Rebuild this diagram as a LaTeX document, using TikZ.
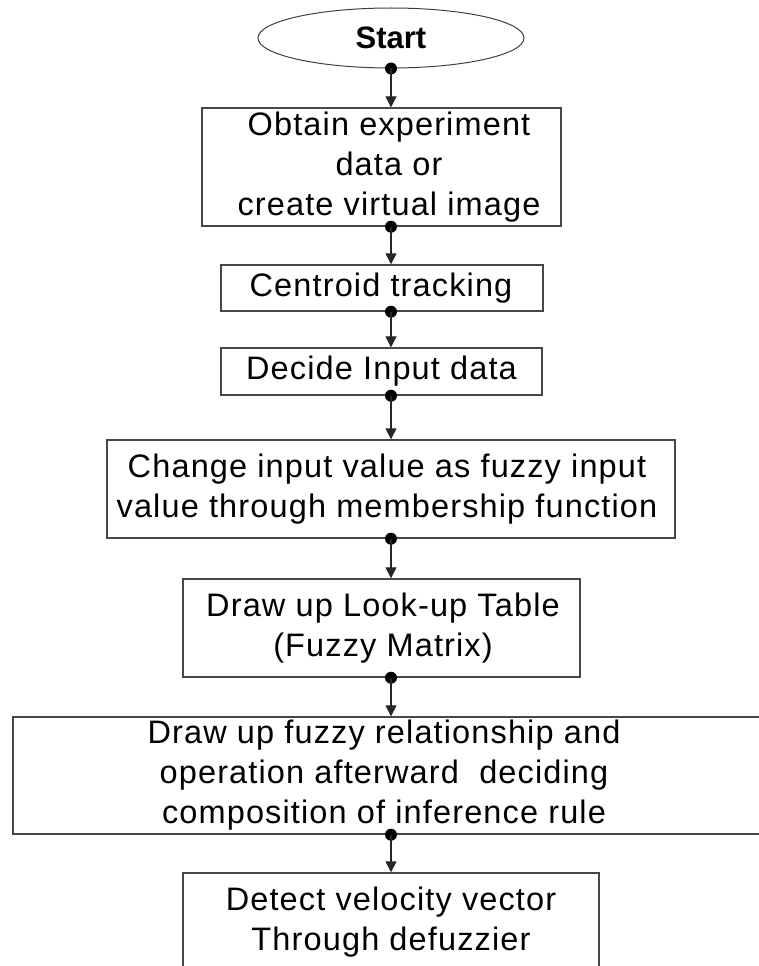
\documentclass[tikz,border=0pt]{standalone}
\usepackage{fontspec}
\setmainfont{Liberation Sans}[LetterSpace=3.5]
\newfontfamily\titlefont{Liberation Sans}
\usetikzlibrary{arrows.meta,shapes.geometric}

\begin{document}
\begin{tikzpicture}[x=1pt,y=-1pt,
  box/.style={draw=black!72, line width=1.4pt, rectangle, inner sep=0pt},
  txt/.style={align=center, font=\fontsize{32.5}{40}\selectfont, inner sep=0pt},
  link/.style={draw=black!85, line width=1.3pt, -{Triangle[length=11pt,width=11pt]}},
  joint/.style={circle, fill=black, inner sep=0pt, minimum size=12pt}]

\useasboundingbox (0,0) rectangle (759,966);
\clip (0,0) rectangle (759,966);

% vertical axis shared by all connectors
\coordinate (spine) at (391,0);

% terminal
\node[draw=black!75, line width=1pt, ellipse, minimum width=266pt,
      minimum height=60pt, inner sep=0pt,
      font=\titlefont\bfseries\fontsize{31}{36}\selectfont] (start) at (391,38) {Start};

% process boxes
\node[box, minimum width=359pt, minimum height=118pt] (b1) at (381.5,167) {};
\node[txt] (t1) at (389,167) {Obtain experiment\\data or\\create virtual image};

\node[box, minimum width=322pt, minimum height=46pt] (b2) at (382,288) {};
\node[txt] (t2) at (381,288) {Centroid tracking};

\node[box, minimum width=321pt, minimum height=47pt] (b3) at (381.5,371.5) {};
\node[txt] (t3) at (381.5,371.5) {Decide Input data};

\node[box, minimum width=568pt, minimum height=98pt] (b4) at (391,489) {};
\node[txt] (t4) at (387,489) {Change input value as fuzzy input\\value through membership function};

\node[box, minimum width=397pt, minimum height=98pt] (b5) at (381.5,628) {};
\node[txt] (t5) at (383,628) {Draw up Look-up Table\\(Fuzzy Matrix)};

\node[box, minimum width=760pt, minimum height=117pt] (b6) at (393,775.5) {};
\node[txt] (t6) at (384,775.5) {Draw up fuzzy relationship and\\operation afterward\ \ deciding\\composition of inference rule};

\node[box, minimum width=416pt, minimum height=102pt] (b7) at (391,924) {};
\node[txt] (t7) at (391,922) {Detect velocity vector\\Through defuzzier};

% junction dots on the lower edges
\node[joint] (d0) at (start.south -| spine) {};
\node[joint] (d1) at (b1.south -| spine) {};
\node[joint] (d2) at (b2.south -| spine) {};
\node[joint] (d3) at (b3.south -| spine) {};
\node[joint] (d4) at (b4.south -| spine) {};
\node[joint] (d5) at (b5.south -| spine) {};
\node[joint] (d6) at (b6.south -| spine) {};

% connectors
\draw[link] (d0.center) -- (b1.north -| spine);
\draw[link] (d1.center) -- (b2.north -| spine);
\draw[link] (d2.center) -- (b3.north -| spine);
\draw[link] (d3.center) -- (b4.north -| spine);
\draw[link] (d4.center) -- (b5.north -| spine);
\draw[link] (d5.center) -- (b6.north -| spine);
\draw[link] (d6.center) -- (b7.north -| spine);
\end{tikzpicture}
\end{document}
